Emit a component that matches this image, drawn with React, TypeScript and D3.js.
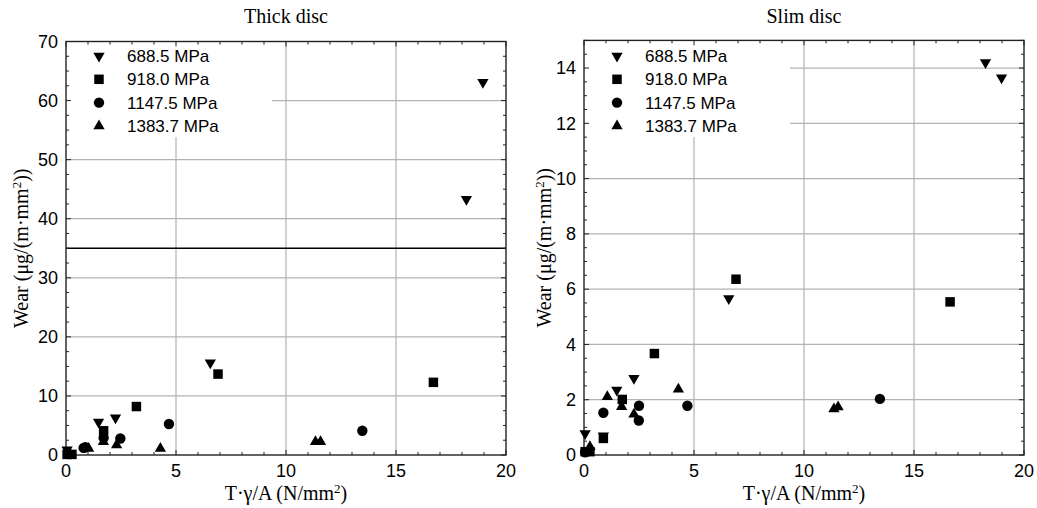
import React from "react";
import * as d3 from "d3";

const seriesNames = ["688.5 MPa", "918.0 MPa", "1147.5 MPa", "1383.7 MPa"];
const xTicks = [0, 5, 10, 15, 20];
const thickYTicks = [0, 10, 20, 30, 40, 50, 60, 70];
const slimYTicks = [0, 2, 4, 6, 8, 10, 12, 14];

const thick688: [number, number][] = [[0.05, 0.9], [1.48, 5.6], [2.25, 6.3], [6.56, 15.6], [18.2, 43.3], [18.95, 63.1]];
const thick918: [number, number][] = [[0.05, 0.1], [0.27, 0.1], [1.71, 4.1], [3.2, 8.2], [6.91, 13.7], [16.7, 12.3]];
const thick1147: [number, number][] = [[0.8, 1.2], [0.88, 1.3], [1.71, 2.9], [2.47, 2.8], [4.68, 5.25], [13.47, 4.1]];
const thick1383: [number, number][] = [[1.03, 1.1], [1.7, 2.25], [2.3, 1.7], [4.29, 1.1], [11.34, 2.25], [11.57, 2.25]];

const slim688: [number, number][] = [[0.05, 0.78], [0.88, 0.7], [1.49, 2.35], [2.27, 2.78], [6.58, 5.66], [18.25, 14.2], [18.98, 13.65]];
const slim918: [number, number][] = [[0.05, 0.12], [0.27, 0.12], [0.88, 0.6], [1.74, 2.01], [3.2, 3.67], [6.91, 6.36], [16.64, 5.54]];
const slim1147: [number, number][] = [[0.05, 0.1], [0.88, 1.53], [2.5, 1.78], [2.49, 1.25], [4.7, 1.78], [13.45, 2.03]];
const slim1383: [number, number][] = [[0.27, 0.3], [1.06, 2.11], [1.71, 1.75], [2.27, 1.47], [4.29, 2.38], [11.36, 1.66], [11.55, 1.74]];

const thickRefLine = 35;

const SANS = "'Liberation Sans', Arial, sans-serif";
const SERIF = "'Liberation Serif', 'Times New Roman', serif";

const symbolPaths = [
  d3.symbol().type(d3.symbolTriangle).size(55)(),
  d3.symbol().type(d3.symbolSquare).size(90)(),
  d3.symbol().type(d3.symbolCircle).size(85)(),
  d3.symbol().type(d3.symbolTriangle).size(55)(),
];
const symbolRot = [180, 0, 0, 0];

function Marker({ i, x, y }: { i: number; x: number; y: number }) {
  return (
    <path
      d={symbolPaths[i] as string}
      transform={`translate(${x},${y}) rotate(${symbolRot[i]})`}
      fill="#000"
    />
  );
}

type PanelProps = {
  title: string;
  x0: number;
  x1: number;
  yTop: number;
  yMax: number;
  yTicks: number[];
  yMinor: number;
  series: [number, number][][];
  yLabelX: number;
  refLine?: number;
};

function Panel(p: PanelProps) {
  const bottom = 455;
  const x = d3.scaleLinear().domain([0, 20]).range([p.x0, p.x1]);
  const y = d3.scaleLinear().domain([0, p.yMax]).range([bottom, p.yTop]);
  const xMinor = d3.range(0, 20.001, 1);
  const yMinor = d3.range(0, p.yMax + 0.0001, p.yMinor);
  const legendRight = p.x0 + 206;
  const legendBottom = 137;
  const cx = (p.x0 + p.x1) / 2;
  const cy = (bottom + p.yTop) / 2;
  const frame = "#222";
  return (
    <g>
      {/* gridlines */}
      {xTicks.slice(1, -1).map((t) => (
        <line key={"gx" + t} x1={x(t)} x2={x(t)} y1={bottom} y2={p.yTop} stroke="#b3b3b3" strokeWidth={1.2} />
      ))}
      {p.yTicks.filter((t) => t > 0 && y(t) > p.yTop + 2).map((t) => (
        <line key={"gy" + t} x1={p.x0} x2={p.x1} y1={y(t)} y2={y(t)} stroke="#b3b3b3" strokeWidth={1.2} />
      ))}
      {/* legend background */}
      <rect x={p.x0 + 1} y={p.yTop + 1} width={legendRight - p.x0 - 1} height={legendBottom - p.yTop - 1} fill="#fff" />
      {p.refLine !== undefined && (
        <line x1={p.x0} x2={p.x1} y1={y(p.refLine)} y2={y(p.refLine)} stroke="#000" strokeWidth={1.6} />
      )}
      {/* minor ticks */}
      {xMinor.map((t) => {
        const len = t % 5 === 0 ? 5 : 3;
        return (
          <g key={"mx" + t}>
            <line x1={x(t)} x2={x(t)} y1={bottom} y2={bottom - len} stroke={frame} strokeWidth={1} />
            <line x1={x(t)} x2={x(t)} y1={p.yTop} y2={p.yTop + len} stroke={frame} strokeWidth={1} />
          </g>
        );
      })}
      {yMinor.map((t, i) => {
        const len = i % 4 === 0 ? 5 : 3;
        return (
          <g key={"my" + i}>
            <line x1={p.x0} x2={p.x0 + len} y1={y(t)} y2={y(t)} stroke={frame} strokeWidth={1} />
            <line x1={p.x1} x2={p.x1 - len} y1={y(t)} y2={y(t)} stroke={frame} strokeWidth={1} />
          </g>
        );
      })}
      {/* frame */}
      <rect x={p.x0} y={p.yTop} width={p.x1 - p.x0} height={bottom - p.yTop} fill="none" stroke={frame} strokeWidth={1.4} />
      {/* data */}
      {p.series.map((s, i) =>
        s.map((d, j) => <Marker key={i + "-" + j} i={i} x={x(d[0])} y={y(d[1])} />)
      )}
      {/* legend */}
      {seriesNames.map((n, i) => (
        <g key={n}>
          <Marker i={i} x={p.x0 + 33} y={56 + i * 23.3} />
          <text x={p.x0 + 61} y={56 + i * 23.3} dy="0.35em" fontFamily={SANS} fontSize={17}>
            {n}
          </text>
        </g>
      ))}
      {/* tick labels */}
      {xTicks.map((t) => (
        <text key={"xl" + t} x={x(t)} y={477} textAnchor="middle" fontFamily={SANS} fontSize={18}>
          {t}
        </text>
      ))}
      {p.yTicks.map((t) => (
        <text key={"yl" + t} x={p.x0 - 8} y={y(t)} dy="0.35em" textAnchor="end" fontFamily={SANS} fontSize={18}>
          {t}
        </text>
      ))}
      {/* titles */}
      <text x={cx} y={23} textAnchor="middle" fontFamily={SERIF} fontSize={20}>
        {p.title}
      </text>
      <text x={cx} y={500} textAnchor="middle" fontFamily={SERIF} fontSize={20}>
        T·γ/A (N/mm<tspan baselineShift="super" fontSize={13}>2</tspan>)
      </text>
      <text
        transform={`translate(${p.yLabelX},${cy}) rotate(-90)`}
        textAnchor="middle"
        dy="0.35em"
        fontFamily={SERIF}
        fontSize={20}
      >
        Wear (μg/(m·mm<tspan baselineShift="super" fontSize={13}>2</tspan>))
      </text>
    </g>
  );
}

export default function App() {
  return (
    <svg
      width={1037}
      height={508}
      style={{ position: "absolute", left: 0, top: 0, background: "#fff" }}
    >
      <rect width={1037} height={508} fill="#fff" />
      <Panel
        title="Thick disc"
        x0={66}
        x1={506}
        yTop={41.5}
        yMax={70}
        yTicks={thickYTicks}
        yMinor={2.5}
        series={[thick688, thick918, thick1147, thick1383]}
        yLabelX={21}
        refLine={thickRefLine}
      />
      <Panel
        title="Slim disc"
        x0={584}
        x1={1024}
        yTop={40.4}
        yMax={15}
        yTicks={slimYTicks}
        yMinor={0.5}
        series={[slim688, slim918, slim1147, slim1383]}
        yLabelX={544}
      />
    </svg>
  );
}
